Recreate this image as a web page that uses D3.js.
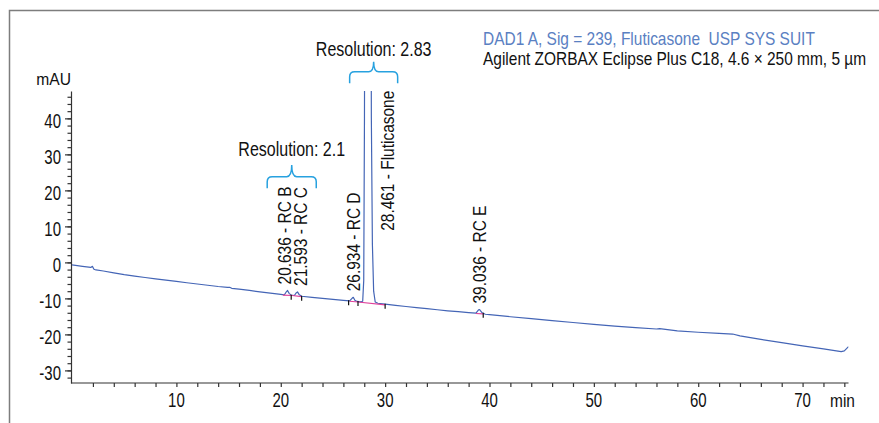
<!DOCTYPE html>
<html><head><meta charset="utf-8">
<script src="https://cdn.jsdelivr.net/npm/d3@7"></script>
<style>
html,body{margin:0;padding:0;background:#fff;}
svg{display:block;font-family:"Liberation Sans",Arial,sans-serif;}
svg text{white-space:pre;}
</style></head><body>
<svg id="chart" width="879" height="423"></svg>
<script>
// ---------- data ----------
const times  = [0.0,1.0,1.8,1.95,2.1,2.3,3.0,4.0,5.0,6.0,7.0,8.0,9.0,10.0,11.0,12.0,13.0,14.0,14.9,15.1,15.3,16.0,17.0,18.0,19.0,20.0,20.35,20.55,20.65,20.8,21.0,21.3,21.5,21.6,21.75,22.0,23.0,24.0,25.0,26.0,26.6,26.85,26.95,27.1,27.3,27.7,27.85,27.95,28.02,28.1,28.46,28.6,28.68,28.78,28.9,29.05,29.3,30.0,31.0,32.0,33.0,34.0,35.0,36.0,37.0,38.0,38.7,38.95,39.05,39.3,39.6,40.0,42,44,46,48,50,52,54,56,56.3,58,60,62,63.3,64,66,68,70,72,73.7,74.0,74.4];
const signal = [-0.7,-1.1,-1.4,-1.1,-1.9,-2.1,-2.4,-2.9,-3.4,-3.8,-4.2,-4.6,-4.95,-5.3,-5.65,-6.0,-6.35,-6.7,-6.95,-6.9,-7.2,-7.45,-7.8,-8.2,-8.55,-8.9,-9.0,-8.1,-7.8,-8.6,-9.1,-9.2,-8.4,-8.2,-8.9,-9.4,-9.7,-10.0,-10.3,-10.55,-10.7,-9.9,-9.7,-10.5,-10.85,-10.95,-10.8,-5,40,150,1200,150,40,5,-8,-11,-11.35,-11.6,-11.95,-12.25,-12.55,-12.85,-13.15,-13.45,-13.7,-13.95,-14.1,-13.2,-13.1,-14.0,-14.4,-14.5,-15.1,-15.6,-16.2,-16.7,-17.2,-17.7,-18.1,-18.5,-18.4,-19.0,-19.4,-19.7,-19.9,-20.4,-21.4,-22.3,-23.2,-24.0,-24.8,-24.6,-23.4];

const peakTimes = [20.636, 21.593, 26.934, 28.461, 39.036];
const peakNames = ["RC B", "RC C", "RC D", "Fluticasone", "RC E"];
const peakApex  = [-7.8, -8.2, -9.7, 7.1, -13.1];

const baseStartT = [20.2, 21.1, 26.6, 27.4, 38.7];
const baseStartV = [-9.1, -9.2, -10.8, -11.0, -14.2];
const baseEndT   = [21.1, 22.0, 27.4, 30.0, 39.4];
const baseEndV   = [-9.2, -9.5, -11.0, -11.8, -14.3];
const eventTicks = [21.0, 22.0, 26.5, 27.4, 30.0, 39.4];

const resolutionTexts = ["Resolution: 2.1", "Resolution: 2.83"];
const resolutionStart = [18.7, 26.6];
const resolutionEnd   = [23.4, 31.2];

const yMajorTicks = [-30, -20, -10, 0, 10, 20, 30, 40];
const yMinorTicks = d3.range(-32, 47, 2);
const xMajorTicks = [10, 20, 30, 40, 50, 60, 70];
const xMinorTicks = d3.range(2, 75, 2);

const titleLines = ["DAD1 A, Sig = 239, Fluticasone  USP SYS SUIT",
                    "Agilent ZORBAX Eclipse Plus C18, 4.6 \u00d7 250 mm, 5 \u00b5m"];
const yUnit = "mAU", xUnit = "min";

// ---------- layout ----------
const L = {left: 71, right: 848.5, top: 91, bottom: 383};
const F = {tick: [20, 0.75], peak: [18, 0.86], res: [20, 0.8], title: [18, 0.86], unitY: [17, 0.92], unitX: [18, 0.86]};
const labelDx = [-3.3, 3.3, 0, 18, 0];
const labelGap = 6;
const braceTop = [165, 61.7], braceMid = [176.7, 71.7], braceEnd = [188.3, 83.3], resBase = [156, 56];
const C = {trace: "#4465b6", base: "#e0409a", brace: "#27a1df", title: "#5a80c2", axis: "#333", frame: "#7d7d7d", text: "#111"};

const svg = d3.select("#chart");
const x = d3.scaleLinear().domain([-0.1, 74.4]).range([L.left, L.right]);
const y = d3.scaleLinear().domain([-33.5, 47.6]).range([L.bottom, L.top]);

// condensed text helper
function ntext(parent, px, py, str, f, opt = {}) {
  const rot = opt.rotate ? ` rotate(${opt.rotate})` : "";
  const t = parent.append("text")
    .attr("transform", `translate(${px},${py})${rot} scale(${f[1]},1)`)
    .attr("xml:space", "preserve")
    .attr("font-size", f[0]).attr("fill", opt.fill || C.text)
    .attr("text-anchor", opt.anchor || "start").text(str);
  if (opt.dy) t.attr("dy", opt.dy);
  return t;
}

// frame
svg.append("path").attr("d", "M9.5,423 V10.5 H879").attr("fill", "none")
  .attr("stroke", C.frame).attr("stroke-width", 1.5);

// clip
svg.append("clipPath").attr("id", "clip").append("rect")
  .attr("x", L.left).attr("y", L.top).attr("width", L.right - L.left).attr("height", L.bottom - L.top);

// axes
const gy = svg.append("g").attr("transform", `translate(${L.left},0)`);
gy.call(d3.axisLeft(y).tickValues(yMinorTicks).tickSize(3.5).tickSizeOuter(0).tickFormat(""));
const gyM = svg.append("g").attr("transform", `translate(${L.left},0)`);
gyM.call(d3.axisLeft(y).tickValues(yMajorTicks).tickSize(6).tickSizeOuter(0).tickFormat(""));
gyM.select(".domain").remove();
[gy, gyM].forEach(g => { g.selectAll("line,path").attr("stroke", C.axis).attr("stroke-width", 1.2); });
yMajorTicks.forEach(v => ntext(svg, L.left - 10, y(v) + 10, String(v), F.tick, {anchor: "end"}));

const gx = svg.append("g").attr("transform", `translate(0,${L.bottom})`);
gx.call(d3.axisBottom(x).tickValues(xMinorTicks).tickSize(4).tickSizeOuter(0).tickFormat(""));
gx.selectAll("line,path").attr("stroke", C.axis).attr("stroke-width", 1.2);
gx.select(".domain").attr("d", `M${L.left},0H${L.right}`);
xMajorTicks.forEach(v => ntext(svg, x(v), L.bottom + 24.3, String(v), F.tick, {anchor: "middle"}));

ntext(svg, L.left, 85, yUnit, F.unitY, {anchor: "end"});
ntext(svg, 830, 407, xUnit, F.unitX);

// trace
const pts = times.map((t, i) => [t, signal[i]]);
const plot = svg.append("g").attr("clip-path", "url(#clip)");
plot.append("path").datum(pts).attr("fill", "none").attr("stroke", C.trace).attr("stroke-width", 1.2)
  .attr("stroke-linejoin", "round")
  .attr("d", d3.line().x(d => x(d[0])).y(d => y(d[1])));

// integration baselines
plot.selectAll("line.base").data(baseStartT).join("line").attr("class", "base")
  .attr("x1", (d, i) => x(d)).attr("y1", (d, i) => y(baseStartV[i]))
  .attr("x2", (d, i) => x(baseEndT[i])).attr("y2", (d, i) => y(baseEndV[i]))
  .attr("stroke", C.base).attr("stroke-width", 1.2);

// event ticks
const interp = t => { const i = d3.bisectLeft(times, t); const t0 = times[i-1], t1 = times[i];
  const f = (t - t0) / (t1 - t0); return signal[i-1] + f * (signal[i] - signal[i-1]); };
svg.selectAll("line.ev").data(eventTicks).join("line").attr("class", "ev")
  .attr("x1", d => x(d)).attr("x2", d => x(d))
  .attr("y1", d => y(interp(d)) - 0.5).attr("y2", d => y(interp(d)) + 4.5)
  .attr("stroke", "#111").attr("stroke-width", 1.2);

// peak labels
peakTimes.forEach((t, i) => {
  ntext(svg, x(t) + labelDx[i], y(peakApex[i]) - labelGap, `${t.toFixed(3)} - ${peakNames[i]}`,
        F.peak, {rotate: -90, dy: "0.36em"});
});

// resolution braces
const brace = (x1, x2, yt, ym, ye) => {
  const r = 5, xm = (x1 + x2) / 2;
  return `M${x1},${ye} V${ym + r} Q${x1},${ym} ${x1 + r},${ym} H${xm - r} Q${xm},${ym} ${xm},${yt} ` +
         `Q${xm},${ym} ${xm + r},${ym} H${x2 - r} Q${x2},${ym} ${x2},${ym + r} V${ye}`;
};
resolutionTexts.forEach((txt, i) => {
  const x1 = x(resolutionStart[i]), x2 = x(resolutionEnd[i]);
  svg.append("path").attr("d", brace(x1, x2, braceTop[i], braceMid[i], braceEnd[i]))
    .attr("fill", "none").attr("stroke", C.brace).attr("stroke-width", 1.5);
  ntext(svg, (x1 + x2) / 2, resBase[i], txt, F.res, {anchor: "middle"});
});

// title
titleLines.forEach((d, i) => {
  ntext(svg, 483, i === 0 ? 45 : 65, d, F.title, {fill: i === 0 ? C.title : C.text});
});
</script>
</body></html>
